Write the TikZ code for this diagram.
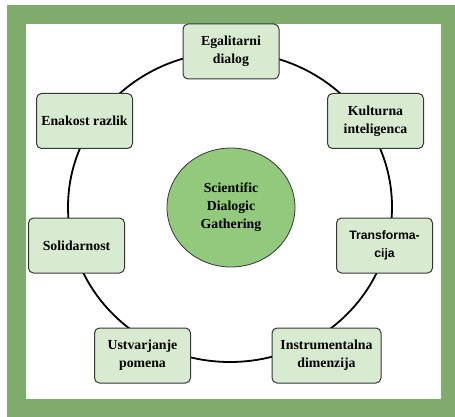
\documentclass[tikz,border=0pt]{standalone}
\usepackage{fontspec}
\setmainfont{Liberation Serif}
\setsansfont{Liberation Sans}
\usepackage{tikz}
\definecolor{framegreen}{RGB}{127,171,108}
\definecolor{hubgreen}{RGB}{146,201,124}
\definecolor{boxgreen}{RGB}{216,235,208}
\definecolor{edgegray}{RGB}{55,55,55}
\tikzset{
  stepbox/.style={draw=edgegray,fill=boxgreen,rounded corners=5pt,line width=1pt,
    minimum width=96pt,minimum height=55pt,align=center,inner sep=2pt,
    font=\fontsize{13.8}{18}\selectfont\bfseries},
  hub/.style={draw=edgegray,fill=hubgreen,ellipse,line width=0.8pt,
    minimum width=128pt,minimum height=119pt,align=center,
    font=\fontsize{13.8}{18}\selectfont\bfseries}
}
\usetikzlibrary{shapes.geometric}
\begin{document}
\begin{tikzpicture}[x=1pt,y=-1pt]
\useasboundingbox (0,0) rectangle (455,417);

\fill[framegreen] (7,5) rectangle (455,417);
\fill[white] (26,24) rectangle (441,399);
\draw[line width=1.8pt] (230,207) ellipse (162 and 155);

\node[hub] (sdg) at (231,207.5) {Scientific\\Dialogic\\Gathering};
\node[stepbox] (egal) at (231,51.5) {Egalitarni\\dialog};
\node[stepbox] (kult) at (375.5,121) {Kulturna\\inteligenca};
\node[stepbox,font=\fontsize{12.2}{18}\selectfont\sffamily\bfseries] (trans) at (384.5,245.5) {Transforma-\\cija};
\node[stepbox,minimum width=109pt] (instr) at (326.5,355.5) {Instrumentalna\\dimenzija};
\node[stepbox] (ustv) at (142.5,355.5) {Ustvarjanje\\pomena};
\node[stepbox] (solid) at (76.5,245.5) {Solidarnost};
\node[stepbox] (enak) at (84.5,121) {Enakost razlik};
\end{tikzpicture}
\end{document}
